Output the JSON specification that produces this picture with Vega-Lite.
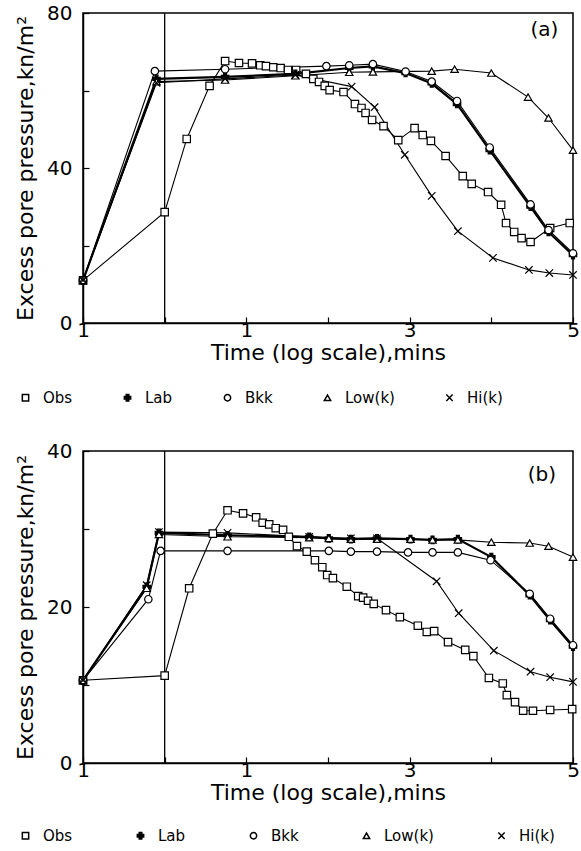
{
  "$schema": "https://vega.github.io/schema/vega-lite/v6.json",
  "background": "white",
  "padding": {"left": 13, "top": 2, "right": 2, "bottom": 2},
  "config": {
    "font": "DejaVu Sans",
    "view": {"stroke": "black", "strokeWidth": 1.5},
    "axis": {
      "grid": false,
      "domainColor": "black",
      "domainWidth": 1.5,
      "tickColor": "black",
      "tickWidth": 1.2,
      "tickSize": -6,
      "labelColor": "black",
      "labelFont": "DejaVu Sans",
      "labelFontSize": 20,
      "labelFlush": false,
      "labelOverlap": false,
      "titleColor": "black",
      "titleFont": "DejaVu Sans",
      "titleFontSize": 22,
      "titleFontWeight": "normal"
    },
    "legend": {
      "labelFont": "DejaVu Sans",
      "labelFontSize": 15,
      "labelColor": "black",
      "symbolSize": 40,
      "labelOffset": 10
    }
  },
  "datasets": {
    "a": [
      {"series":"Obs","t":-1,"p":11},{"series":"Obs","t":0,"p":28.6},{"series":"Obs","t":0.27,"p":47.5},{"series":"Obs","t":0.55,"p":61.2},{"series":"Obs","t":0.74,"p":67.6},{"series":"Obs","t":0.91,"p":67.1},{"series":"Obs","t":1.07,"p":67},{"series":"Obs","t":1.17,"p":66.5},{"series":"Obs","t":1.24,"p":66.3},{"series":"Obs","t":1.33,"p":66},{"series":"Obs","t":1.42,"p":65.8},{"series":"Obs","t":1.51,"p":65.3},{"series":"Obs","t":1.61,"p":65.3},{"series":"Obs","t":1.73,"p":64.3},{"series":"Obs","t":1.82,"p":63},{"series":"Obs","t":1.89,"p":62.2},{"series":"Obs","t":1.96,"p":61.2},{"series":"Obs","t":2.02,"p":60.1},{"series":"Obs","t":2.19,"p":59.6},{"series":"Obs","t":2.33,"p":56.5},{"series":"Obs","t":2.41,"p":55.5},{"series":"Obs","t":2.46,"p":54.2},{"series":"Obs","t":2.54,"p":52.4},{"series":"Obs","t":2.68,"p":50.8},{"series":"Obs","t":2.86,"p":47.2},{"series":"Obs","t":3.06,"p":50.3},{"series":"Obs","t":3.16,"p":48.5},{"series":"Obs","t":3.26,"p":47},{"series":"Obs","t":3.44,"p":43.1},{"series":"Obs","t":3.65,"p":37.9},{"series":"Obs","t":3.76,"p":35.9},{"series":"Obs","t":3.96,"p":33.8},{"series":"Obs","t":4.12,"p":30.5},{"series":"Obs","t":4.18,"p":25.8},{"series":"Obs","t":4.28,"p":23.5},{"series":"Obs","t":4.37,"p":21.9},{"series":"Obs","t":4.48,"p":20.9},{"series":"Obs","t":4.72,"p":24.5},{"series":"Obs","t":4.96,"p":25.8},
      {"series":"Lab","t":-1,"p":11},{"series":"Lab","t":-0.1,"p":63},{"series":"Lab","t":0.74,"p":63.5},{"series":"Lab","t":1.6,"p":64.3},{"series":"Lab","t":2.26,"p":65.8},{"series":"Lab","t":2.55,"p":66.2},{"series":"Lab","t":2.95,"p":64.5},{"series":"Lab","t":3.27,"p":61.8},{"series":"Lab","t":3.58,"p":56.5},{"series":"Lab","t":3.98,"p":44.6},{"series":"Lab","t":4.48,"p":30},{"series":"Lab","t":4.7,"p":23.5},{"series":"Lab","t":5,"p":17.5},
      {"series":"Bkk","t":-1,"p":11},{"series":"Bkk","t":-0.12,"p":65},{"series":"Bkk","t":0.74,"p":65.5},{"series":"Bkk","t":1.98,"p":66.3},{"series":"Bkk","t":2.26,"p":66.5},{"series":"Bkk","t":2.55,"p":66.8},{"series":"Bkk","t":2.95,"p":64.9},{"series":"Bkk","t":3.27,"p":62.3},{"series":"Bkk","t":3.58,"p":57.3},{"series":"Bkk","t":3.98,"p":45.3},{"series":"Bkk","t":4.48,"p":30.6},{"series":"Bkk","t":4.7,"p":24},{"series":"Bkk","t":5,"p":18},
      {"series":"Low(k)","t":-1,"p":11},{"series":"Low(k)","t":-0.1,"p":62.3},{"series":"Low(k)","t":0.74,"p":62.7},{"series":"Low(k)","t":1.6,"p":63.8},{"series":"Low(k)","t":2.26,"p":64.7},{"series":"Low(k)","t":2.55,"p":64.8},{"series":"Low(k)","t":3.27,"p":65},{"series":"Low(k)","t":3.55,"p":65.5},{"series":"Low(k)","t":4.0,"p":64.5},{"series":"Low(k)","t":4.45,"p":58.3},{"series":"Low(k)","t":4.7,"p":52.9},{"series":"Low(k)","t":5,"p":44.6},
      {"series":"Hi(k)","t":-1,"p":11},{"series":"Hi(k)","t":-0.1,"p":62},{"series":"Hi(k)","t":0.74,"p":63},{"series":"Hi(k)","t":1.6,"p":64},{"series":"Hi(k)","t":2.29,"p":61},{"series":"Hi(k)","t":2.57,"p":55.7},{"series":"Hi(k)","t":2.94,"p":43.4},{"series":"Hi(k)","t":3.27,"p":32.8},{"series":"Hi(k)","t":3.59,"p":23.7},{"series":"Hi(k)","t":4.02,"p":16.8},{"series":"Hi(k)","t":4.46,"p":13.7},{"series":"Hi(k)","t":4.71,"p":12.9},{"series":"Hi(k)","t":5,"p":12.4}
    ],
    "b": [
      {"series":"Obs","t":-1,"p":10.6},{"series":"Obs","t":0,"p":11.2},{"series":"Obs","t":0.3,"p":22.4},{"series":"Obs","t":0.59,"p":29.4},{"series":"Obs","t":0.77,"p":32.4},{"series":"Obs","t":0.96,"p":32},{"series":"Obs","t":1.12,"p":31.5},{"series":"Obs","t":1.2,"p":30.8},{"series":"Obs","t":1.28,"p":30.6},{"series":"Obs","t":1.36,"p":30.1},{"series":"Obs","t":1.45,"p":29.9},{"series":"Obs","t":1.52,"p":29},{"series":"Obs","t":1.62,"p":27.8},{"series":"Obs","t":1.74,"p":27.1},{"series":"Obs","t":1.84,"p":26},{"series":"Obs","t":1.93,"p":25.1},{"series":"Obs","t":1.99,"p":24.1},{"series":"Obs","t":2.06,"p":23.7},{"series":"Obs","t":2.23,"p":22.6},{"series":"Obs","t":2.37,"p":21.4},{"series":"Obs","t":2.43,"p":21.2},{"series":"Obs","t":2.49,"p":20.8},{"series":"Obs","t":2.56,"p":20.4},{"series":"Obs","t":2.71,"p":19.6},{"series":"Obs","t":2.88,"p":18.7},{"series":"Obs","t":3.1,"p":17.6},{"series":"Obs","t":3.21,"p":16.8},{"series":"Obs","t":3.3,"p":16.9},{"series":"Obs","t":3.47,"p":15.5},{"series":"Obs","t":3.68,"p":14.5},{"series":"Obs","t":3.78,"p":13.7},{"series":"Obs","t":3.97,"p":10.9},{"series":"Obs","t":4.14,"p":10.2},{"series":"Obs","t":4.19,"p":8.7},{"series":"Obs","t":4.29,"p":7.8},{"series":"Obs","t":4.39,"p":6.7},{"series":"Obs","t":4.51,"p":6.7},{"series":"Obs","t":4.72,"p":6.8},{"series":"Obs","t":4.99,"p":6.9},
      {"series":"Lab","t":-1,"p":10.6},{"series":"Lab","t":-0.22,"p":22.6},{"series":"Lab","t":-0.07,"p":29.5},{"series":"Lab","t":0.77,"p":29.2},{"series":"Lab","t":1.77,"p":29},{"series":"Lab","t":2.01,"p":28.8},{"series":"Lab","t":2.28,"p":28.7},{"series":"Lab","t":2.6,"p":28.8},{"series":"Lab","t":3.01,"p":28.7},{"series":"Lab","t":3.28,"p":28.6},{"series":"Lab","t":3.59,"p":28.7},{"series":"Lab","t":4.0,"p":26.4},{"series":"Lab","t":4.47,"p":21.5},{"series":"Lab","t":4.72,"p":18.3},{"series":"Lab","t":5,"p":14.9},
      {"series":"Bkk","t":-1,"p":10.6},{"series":"Bkk","t":-0.2,"p":21},{"series":"Bkk","t":-0.05,"p":27.2},{"series":"Bkk","t":0.77,"p":27.2},{"series":"Bkk","t":2.01,"p":27.2},{"series":"Bkk","t":2.28,"p":27.1},{"series":"Bkk","t":2.6,"p":27.1},{"series":"Bkk","t":2.98,"p":27},{"series":"Bkk","t":3.28,"p":27},{"series":"Bkk","t":3.59,"p":27},{"series":"Bkk","t":3.99,"p":26},{"series":"Bkk","t":4.47,"p":21.7},{"series":"Bkk","t":4.72,"p":18.5},{"series":"Bkk","t":5,"p":15.1},
      {"series":"Low(k)","t":-1,"p":10.6},{"series":"Low(k)","t":-0.22,"p":22.4},{"series":"Low(k)","t":-0.07,"p":29.3},{"series":"Low(k)","t":0.77,"p":29},{"series":"Low(k)","t":1.77,"p":28.9},{"series":"Low(k)","t":2.01,"p":28.8},{"series":"Low(k)","t":2.28,"p":28.7},{"series":"Low(k)","t":2.6,"p":28.7},{"series":"Low(k)","t":3.01,"p":28.7},{"series":"Low(k)","t":3.28,"p":28.6},{"series":"Low(k)","t":3.59,"p":28.6},{"series":"Low(k)","t":4.0,"p":28.3},{"series":"Low(k)","t":4.47,"p":28.2},{"series":"Low(k)","t":4.7,"p":27.8},{"series":"Low(k)","t":5,"p":26.4},
      {"series":"Hi(k)","t":-1,"p":10.6},{"series":"Hi(k)","t":-0.22,"p":22.8},{"series":"Hi(k)","t":-0.07,"p":29.6},{"series":"Hi(k)","t":0.77,"p":29.5},{"series":"Hi(k)","t":1.77,"p":29},{"series":"Hi(k)","t":2.28,"p":28.8},{"series":"Hi(k)","t":2.6,"p":28.8},{"series":"Hi(k)","t":3.33,"p":23.3},{"series":"Hi(k)","t":3.6,"p":19.2},{"series":"Hi(k)","t":4.03,"p":14.4},{"series":"Hi(k)","t":4.48,"p":11.7},{"series":"Hi(k)","t":4.72,"p":11},{"series":"Hi(k)","t":5,"p":10.4}
    ]
  },
  "spacing": 128,
  "bounds": "flush",
  "resolve": {
    "scale": {"x": "independent", "y": "independent", "shape": "independent", "fill": "independent"},
    "legend": {"shape": "independent", "fill": "independent"}
  },
  "vconcat": [
    {
      "width": 490,
      "height": 310,
      "layer": [
        {
          "data": {"values": [{"t": 0}]},
          "mark": {"type": "rule", "color": "black", "strokeWidth": 1.3},
          "encoding": {
            "x": {"field": "t", "type": "quantitative", "scale": {"domain": [-1, 5], "nice": false, "zero": false},
              "axis": {"title": "Time (log scale),mins", "values": [-1, 0, 1, 2, 3, 4, 5], "labelExpr": "datum.value % 2 != 0 ? format(abs(datum.value), 'd') : ''", "labelPadding": 3, "titlePadding": 2}}
          }
        },
        {
          "data": {"name": "a"},
          "transform": [{"filter": "datum.series != 'Lab'"}],
          "mark": {"type": "line", "color": "black", "strokeWidth": 1.1},
          "encoding": {
            "x": {"field": "t", "type": "quantitative"},
            "y": {"field": "p", "type": "quantitative", "scale": {"domain": [0, 80], "nice": false},
              "axis": {"title": "Excess pore pressure,kn/m²", "values": [0, 10, 20, 30, 40, 50, 60, 70, 80], "labelExpr": "datum.value % 40 == 0 ? datum.label : ''", "labelPadding": 17, "titlePadding": 9}},
            "detail": {"field": "series"}
          }
        },
        {
          "data": {"name": "a"},
          "transform": [{"filter": "datum.series == 'Lab'"}],
          "mark": {"type": "line", "color": "black", "strokeWidth": 2.2},
          "encoding": {
            "x": {"field": "t", "type": "quantitative"},
            "y": {"field": "p", "type": "quantitative"}
          }
        },
        {
          "data": {"name": "a"},
          "mark": {"type": "point", "filled": true, "stroke": "black", "strokeWidth": 1.2, "size": 55, "opacity": 1},
          "encoding": {
            "x": {"field": "t", "type": "quantitative"},
            "y": {"field": "p", "type": "quantitative"},
            "shape": {"field": "series", "type": "nominal", "scale": {"domain": ["Obs", "Lab", "Bkk", "Low(k)", "Hi(k)"], "range": ["square", "cross", "circle", "triangle-up", "M-1,-1L1,1M-1,1L1,-1"]},
              "legend": {"title": null, "orient": "none", "legendX": -65, "legendY": 377, "direction": "horizontal", "columns": 5, "columnPadding": 47,
                "encode": {"symbols": {"update": {"stroke": {"value": "black"}, "strokeWidth": {"value": 1.3}}}}}},
            "fill": {"field": "series", "type": "nominal", "scale": {"domain": ["Obs", "Lab", "Bkk", "Low(k)", "Hi(k)"], "range": ["white", "black", "white", "white", "white"]},
              "legend": {"title": null, "orient": "none", "legendX": -65, "legendY": 377, "direction": "horizontal", "columns": 5, "columnPadding": 47,
                "encode": {"symbols": {"update": {"stroke": {"value": "black"}, "strokeWidth": {"value": 1.3}}}}}}
          }
        },
        {
          "data": {"values": [{"t": 4.65, "p": 75.6, "label": "(a)"}]},
          "mark": {"type": "text", "fontSize": 20, "font": "DejaVu Sans", "color": "black"},
          "encoding": {
            "x": {"field": "t", "type": "quantitative"},
            "y": {"field": "p", "type": "quantitative"},
            "text": {"field": "label"}
          }
        }
      ]
    },
    {
      "width": 490,
      "height": 312,
      "layer": [
        {
          "data": {"values": [{"t": 0}]},
          "mark": {"type": "rule", "color": "black", "strokeWidth": 1.3},
          "encoding": {
            "x": {"field": "t", "type": "quantitative", "scale": {"domain": [-1, 5], "nice": false, "zero": false},
              "axis": {"title": "Time (log scale),mins", "values": [-1, 0, 1, 2, 3, 4, 5], "labelExpr": "datum.value % 2 != 0 ? format(abs(datum.value), 'd') : ''", "labelPadding": 3, "titlePadding": 2}}
          }
        },
        {
          "data": {"name": "b"},
          "transform": [{"filter": "datum.series != 'Lab'"}],
          "mark": {"type": "line", "color": "black", "strokeWidth": 1.1},
          "encoding": {
            "x": {"field": "t", "type": "quantitative"},
            "y": {"field": "p", "type": "quantitative", "scale": {"domain": [0, 40], "nice": false},
              "axis": {"title": "Excess pore pressure,kn/m²", "values": [0, 5, 10, 15, 20, 25, 30, 35, 40], "labelExpr": "datum.value % 20 == 0 ? datum.label : ''", "labelPadding": 17, "titlePadding": 9}},
            "detail": {"field": "series"}
          }
        },
        {
          "data": {"name": "b"},
          "transform": [{"filter": "datum.series == 'Lab'"}],
          "mark": {"type": "line", "color": "black", "strokeWidth": 2.2},
          "encoding": {
            "x": {"field": "t", "type": "quantitative"},
            "y": {"field": "p", "type": "quantitative"}
          }
        },
        {
          "data": {"name": "b"},
          "mark": {"type": "point", "filled": true, "stroke": "black", "strokeWidth": 1.2, "size": 55, "opacity": 1},
          "encoding": {
            "x": {"field": "t", "type": "quantitative"},
            "y": {"field": "p", "type": "quantitative"},
            "shape": {"field": "series", "type": "nominal", "scale": {"domain": ["Obs", "Lab", "Bkk", "Low(k)", "Hi(k)"], "range": ["square", "cross", "circle", "triangle-up", "M-1,-1L1,1M-1,1L1,-1"]},
              "legend": {"title": null, "orient": "none", "legendX": -65, "legendY": 377, "direction": "horizontal", "columns": 5, "columnPadding": 60,
                "encode": {"symbols": {"update": {"stroke": {"value": "black"}, "strokeWidth": {"value": 1.3}}}}}},
            "fill": {"field": "series", "type": "nominal", "scale": {"domain": ["Obs", "Lab", "Bkk", "Low(k)", "Hi(k)"], "range": ["white", "black", "white", "white", "white"]},
              "legend": {"title": null, "orient": "none", "legendX": -65, "legendY": 377, "direction": "horizontal", "columns": 5, "columnPadding": 60,
                "encode": {"symbols": {"update": {"stroke": {"value": "black"}, "strokeWidth": {"value": 1.3}}}}}}
          }
        },
        {
          "data": {"values": [{"t": 4.62, "p": 36.9, "label": "(b)"}]},
          "mark": {"type": "text", "fontSize": 20, "font": "DejaVu Sans", "color": "black"},
          "encoding": {
            "x": {"field": "t", "type": "quantitative"},
            "y": {"field": "p", "type": "quantitative"},
            "text": {"field": "label"}
          }
        }
      ]
    }
  ]
}
